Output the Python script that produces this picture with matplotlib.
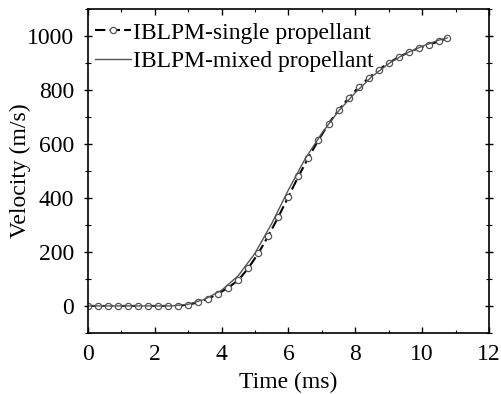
import matplotlib
matplotlib.use("Agg")
import matplotlib.pyplot as plt
from matplotlib.ticker import MultipleLocator

plt.rcParams['font.family'] = ['Liberation Serif', 'DejaVu Serif']

# IBLPM single propellant (every marker, 0.3 ms apart)
t_single = [0.0, 0.3, 0.6, 0.9, 1.2, 1.5, 1.8, 2.1, 2.4, 2.7,
            3.0, 3.3, 3.6, 3.9, 4.2, 4.5, 4.8, 5.1, 5.4, 5.7,
            6.0, 6.3, 6.6, 6.9, 7.2, 7.5, 7.8, 8.1, 8.4, 8.7,
            9.0, 9.3, 9.6, 9.9, 10.2, 10.5, 10.75]
v_single = [0, 0, 0, 0, 0, 0, 0, 0, 0, 0,
            5, 13, 27, 45, 68, 95, 140, 195, 260, 330,
            405, 480, 550, 615, 675, 725, 770, 810, 845, 875,
            900, 922, 940, 955, 968, 980, 992]

# IBLPM mixed propellant
t_mixed = [0.0, 0.5, 1.0, 1.5, 2.0, 2.5, 3.0, 3.5, 4.0, 4.5, 5.0,
           5.5, 6.0, 6.5, 7.0, 7.5, 8.0, 8.5, 9.0, 9.5, 10.0, 10.5, 10.75]
v_mixed = [0, 0, 0, 0, 0, 0, 6, 25, 58, 112, 195,
           305, 430, 545, 640, 722, 790, 850, 898, 935, 962, 985, 993]

FS = 17

fig = plt.figure(figsize=(5.02, 3.94), dpi=100)
ax = fig.add_axes([0.175, 0.155, 0.799, 0.822])

ax.plot(t_single, v_single, color='black', linestyle=(0, (5, 2)), linewidth=1.5,
        marker='o', markersize=4.5, markerfacecolor='white',
        markeredgecolor='#555555', markeredgewidth=0.9,
        label='IBLPM-single propellant')
ax.plot(t_mixed, v_mixed, color='#555555', linewidth=1.0,
        label='IBLPM-mixed propellant')

ax.set_xlim(0, 12)
ax.set_ylim(-100, 1100)
ax.xaxis.set_major_locator(MultipleLocator(2))
ax.xaxis.set_minor_locator(MultipleLocator(1))
ax.yaxis.set_major_locator(MultipleLocator(200))
ax.yaxis.set_minor_locator(MultipleLocator(100))
ax.set_yticks([0, 200, 400, 600, 800, 1000])

# bottom/top/right ticks point inward, left ticks cross the spine
ax.tick_params(which='both', direction='in', top=True, right=True, labelsize=FS)
ax.tick_params(axis='x', which='major', length=4, width=1, pad=8)
ax.tick_params(axis='x', which='minor', length=2.5, width=0.8)
ax.tick_params(axis='y', which='major', direction='inout', length=6, width=1, pad=7)
ax.tick_params(axis='y', which='minor', direction='inout', length=4, width=0.8)
for s in ax.spines.values():
    s.set_linewidth(1.2)

ax.set_xlabel('Time (ms)', fontsize=FS, labelpad=5)
ax.set_ylabel('Velocity (m/s)', fontsize=FS, labelpad=-3)

ax.legend(loc='upper left', frameon=False, fontsize=FS, handlelength=1.55,
          handletextpad=0.08, borderpad=0.2, borderaxespad=0.35,
          labelspacing=0.3, bbox_to_anchor=(-0.015, 1.0))

fig.savefig('out.png', dpi=100)
